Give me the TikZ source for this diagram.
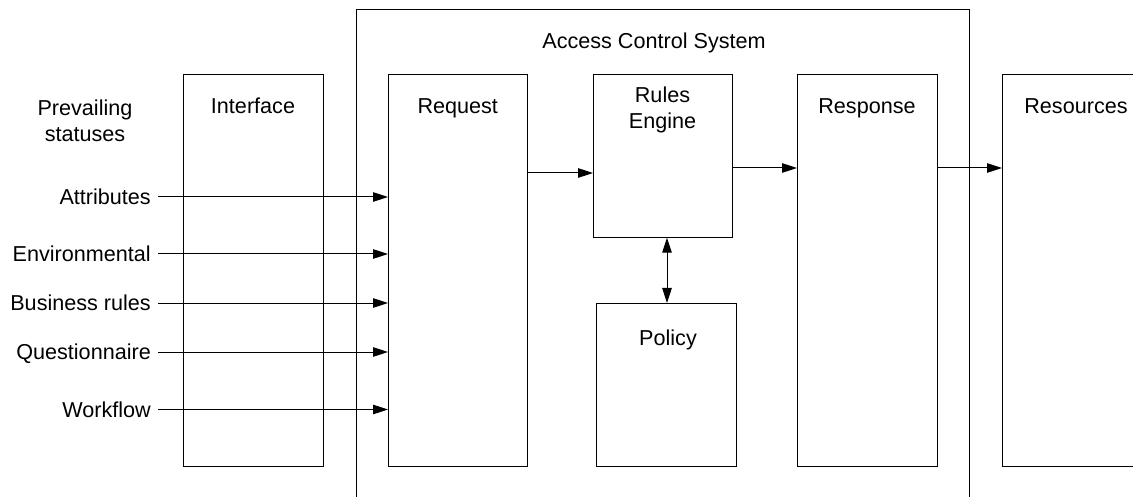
\documentclass[tikz,border=0pt]{standalone}
\usepackage{fontspec}
\setmainfont{Liberation Sans}
\usetikzlibrary{arrows.meta}
\begin{document}
\begin{tikzpicture}[x=1pt,y=-1pt,
  box/.style={draw, line width=1pt, rectangle, inner sep=0pt, outer sep=0pt},
  txt/.style={font=\fontsize{21.6}{25.7}\selectfont, inner sep=0pt, align=center},
  lbl/.style={font=\fontsize{21.6}{25.7}\selectfont, inner xsep=7pt, inner ysep=0pt, text height=15.5pt, text depth=0pt, anchor=east},
  arr/.style={line width=1pt, -{Triangle[length=15pt,width=9.5pt]}},
  darr/.style={line width=1pt, {Triangle[length=15pt,width=9.5pt]}-{Triangle[length=15pt,width=9.5pt]}}]
\clip (0,0) rectangle (1133,497);
\fill[white] (0,0) rectangle (1133,497);
% boxes
\node[box, minimum width=613.5pt, minimum height=510.5pt] (acs) at (662.75,264.75) {};
\node[box, minimum width=140pt, minimum height=392pt] (intf) at (253,270.7) {};
\node[box, minimum width=139.5pt, minimum height=392pt] (req) at (457.75,270.7) {};
\node[box, minimum width=139pt, minimum height=163pt] (rules) at (662.5,156.2) {};
\node[box, minimum width=140pt, minimum height=163.7pt] (policy) at (666,384.85) {};
\node[box, minimum width=140pt, minimum height=392pt] (resp) at (867,270.7) {};
\node[box, minimum width=140pt, minimum height=392pt] (res) at (1072,270.7) {};
% titles
\node[txt, anchor=base] (acst) at (654,49) {Access Control System};
\node[txt, anchor=base] (intft) at (253,114) {Interface};
\node[txt, anchor=base] (reqt) at (457.75,114) {Request};
\node[txt, anchor=north] (rulest) at (662.5,87) {Rules\\Engine};
\node[txt, anchor=base] (policyt) at (668,345) {Policy};
\node[txt, anchor=base] (respt) at (867,114) {Response};
\node[txt, anchor=base] (rest) at (1076,114) {Resources};
\node[txt, anchor=north] (prev) at (85,100) {Prevailing\\statuses};
% input labels
\node[lbl] (attr) at (158,197) {Attributes};
\node[lbl] (env) at (158,254) {Environmental};
\node[lbl] (bus) at (158,303) {Business rules};
\node[lbl] (quest) at (158,352) {Questionnaire};
\node[lbl] (wf) at (158,409.5) {Workflow};
% connectors
\foreach \n in {attr,env,bus,quest,wf}
  \draw[arr] (\n.east) -- (\n.east -| req.west);
\draw[arr] (req.east |- 0,173) -- (rules.west |- 0,173);
\draw[arr] (rules.east |- 0,168) -- (resp.west |- 0,168);
\draw[arr] (resp.east |- 0,168) -- (res.west |- 0,168);
\draw[darr] (rules.south -| 667,0) -- (policy.north -| 667,0);
\end{tikzpicture}
\end{document}
